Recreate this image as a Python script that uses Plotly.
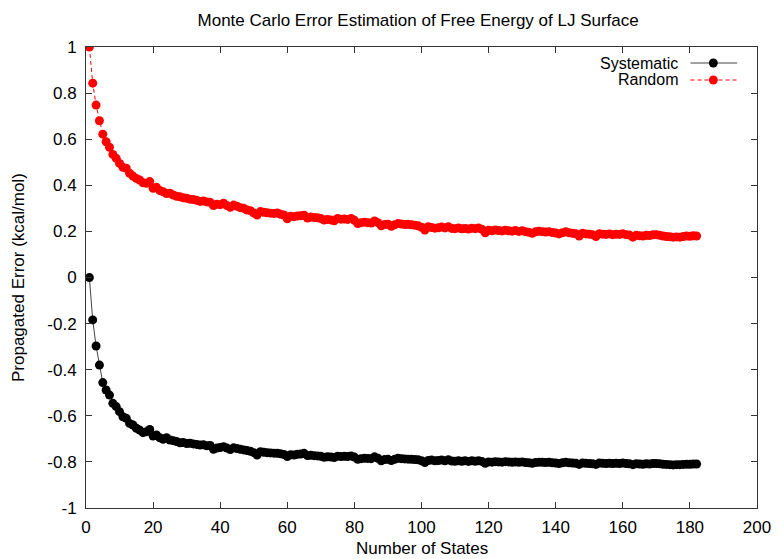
import plotly.graph_objects as go

# Number of states sampled (x) and propagated error (kcal/mol) for each estimate
n_states = list(range(1, 183))

systematic = [
    0.000, -0.184, -0.297, -0.380, -0.456, -0.488, -0.510, -0.546, -0.560, -0.582,
    -0.604, -0.611, -0.633, -0.640, -0.654, -0.662, -0.673, -0.669, -0.659, -0.688,
    -0.683, -0.695, -0.702, -0.695, -0.705, -0.708, -0.712, -0.717, -0.716, -0.720,
    -0.719, -0.722, -0.724, -0.727, -0.726, -0.730, -0.729, -0.745, -0.740, -0.738,
    -0.734, -0.740, -0.746, -0.739, -0.742, -0.745, -0.748, -0.751, -0.754, -0.760,
    -0.770, -0.756, -0.758, -0.760, -0.761, -0.762, -0.763, -0.765, -0.768, -0.777,
    -0.769, -0.770, -0.767, -0.766, -0.763, -0.772, -0.771, -0.773, -0.774, -0.776,
    -0.780, -0.778, -0.779, -0.781, -0.775, -0.777, -0.776, -0.777, -0.774, -0.779,
    -0.789, -0.786, -0.784, -0.785, -0.786, -0.778, -0.784, -0.795, -0.790, -0.789,
    -0.794, -0.789, -0.784, -0.786, -0.787, -0.788, -0.789, -0.790, -0.791, -0.795,
    -0.803, -0.794, -0.792, -0.795, -0.794, -0.792, -0.795, -0.791, -0.796, -0.797,
    -0.795, -0.797, -0.795, -0.798, -0.795, -0.797, -0.795, -0.798, -0.806, -0.800,
    -0.801, -0.799, -0.800, -0.801, -0.799, -0.800, -0.802, -0.800, -0.802, -0.800,
    -0.803, -0.804, -0.806, -0.803, -0.801, -0.802, -0.803, -0.802, -0.804, -0.805,
    -0.807, -0.804, -0.802, -0.804, -0.805, -0.806, -0.811, -0.805, -0.806, -0.807,
    -0.808, -0.811, -0.805, -0.806, -0.807, -0.806, -0.807, -0.806, -0.807, -0.805,
    -0.807, -0.808, -0.812, -0.808, -0.809, -0.810, -0.808, -0.809, -0.807, -0.807,
    -0.808, -0.810, -0.811, -0.812, -0.813, -0.812, -0.812, -0.811, -0.810, -0.810,
    -0.809, -0.809,
]

random_err = [
    1.000, 0.843, 0.748, 0.680, 0.622, 0.589, 0.565, 0.534, 0.517, 0.495,
    0.478, 0.474, 0.452, 0.440, 0.430, 0.423, 0.411, 0.409, 0.416, 0.387,
    0.391, 0.377, 0.372, 0.364, 0.366, 0.358, 0.352, 0.350, 0.346, 0.344,
    0.340, 0.338, 0.335, 0.330, 0.332, 0.328, 0.326, 0.312, 0.318, 0.316,
    0.322, 0.312, 0.305, 0.314, 0.309, 0.303, 0.300, 0.293, 0.290, 0.280,
    0.271, 0.286, 0.283, 0.281, 0.279, 0.278, 0.280, 0.274, 0.271, 0.255,
    0.266, 0.264, 0.267, 0.268, 0.270, 0.258, 0.262, 0.260, 0.259, 0.256,
    0.249, 0.252, 0.250, 0.246, 0.256, 0.253, 0.254, 0.252, 0.256, 0.248,
    0.234, 0.238, 0.240, 0.238, 0.236, 0.245, 0.238, 0.224, 0.230, 0.231,
    0.222, 0.229, 0.234, 0.232, 0.230, 0.231, 0.229, 0.227, 0.224, 0.218,
    0.206, 0.220, 0.217, 0.214, 0.216, 0.219, 0.215, 0.220, 0.213, 0.212,
    0.215, 0.211, 0.213, 0.210, 0.214, 0.212, 0.215, 0.209, 0.194, 0.205,
    0.203, 0.206, 0.204, 0.202, 0.205, 0.203, 0.201, 0.204, 0.200, 0.203,
    0.199, 0.196, 0.192, 0.198, 0.201, 0.199, 0.197, 0.199, 0.195, 0.193,
    0.189, 0.194, 0.198, 0.194, 0.192, 0.190, 0.180, 0.192, 0.189, 0.188,
    0.186, 0.178, 0.190, 0.188, 0.187, 0.189, 0.186, 0.188, 0.187, 0.190,
    0.186, 0.184, 0.175, 0.183, 0.181, 0.180, 0.183, 0.182, 0.185, 0.186,
    0.183, 0.180, 0.178, 0.177, 0.175, 0.176, 0.175, 0.178, 0.180, 0.179,
    0.181, 0.180,
]

x_ticks = [0, 20, 40, 60, 80, 100, 120, 140, 160, 180, 200]
y_ticks = [-1, -0.8, -0.6, -0.4, -0.2, 0, 0.2, 0.4, 0.6, 0.8, 1]
y_tick_text = ["-1", "-0.8", "-0.6", "-0.4", "-0.2", "0", "0.2", "0.4", "0.6", "0.8", "1"]

FONT = "Liberation Sans, Arial, sans-serif"
W, H = 783, 559
L, R, T, B = 86, 21, 47, 51

fig = go.Figure()
fig.add_trace(go.Scatter(
    x=n_states, y=systematic, mode="lines+markers", name="Systematic",
    line=dict(color="#444444", width=1),
    marker=dict(color="black", size=9),
    showlegend=False,
))
fig.add_trace(go.Scatter(
    x=n_states, y=random_err, mode="lines+markers", name="Random",
    line=dict(color="#ff0000", width=1, dash="4px,3px"),
    marker=dict(color="#ff0000", size=9),
    showlegend=False,
))

axis_common = dict(
    showgrid=False, zeroline=False, showline=True, linecolor="#333333", linewidth=1,
    mirror="ticks", ticks="inside", ticklen=6, tickcolor="#333333", tickwidth=1,
    tickfont=dict(family=FONT, size=17, color="black"),
)
fig.update_xaxes(range=[0, 200], tickvals=x_ticks, ticklabelstandoff=4, **axis_common)
fig.update_yaxes(range=[-1, 1], tickvals=y_ticks, ticktext=y_tick_text,
                 ticklabelstandoff=5, **axis_common)

# Gnuplot-style key: label on the left, sample line with point on the right
pw, ph = W - L - R, H - T - B
def px(xp):
    return (xp - L) / pw
def py(yp):
    return (H - B - yp) / ph

shapes = []
annotations = []
key_rows = [("Systematic", "#444444", "black", "solid", 63),
            ("Random", "#ff0000", "#ff0000", "4px,3px", 80)]
for label, lcol, mcol, dash, ypix in key_rows:
    shapes.append(dict(type="line", xref="paper", yref="paper",
                       x0=px(695), x1=px(742), y0=py(ypix), y1=py(ypix),
                       line=dict(color=lcol, width=1, dash=dash)))
    shapes.append(dict(type="circle", xref="paper", yref="paper",
                       x0=px(713.5), x1=px(722.5), y0=py(ypix + 4.5), y1=py(ypix - 4.5),
                       fillcolor=mcol, line=dict(color=mcol, width=0)))
    annotations.append(dict(text=label, xref="paper", yref="paper",
                            x=px(684), y=py(ypix), xanchor="right", yanchor="middle",
                            showarrow=False, font=dict(family=FONT, size=16, color="black")))

annotations.append(dict(text="Number of States", xref="paper", yref="paper",
                        x=0.5, y=py(548), xanchor="center", yanchor="middle",
                        showarrow=False, font=dict(family=FONT, size=17, color="black")))
annotations.append(dict(text="Propagated Error (kcal/mol)", xref="paper", yref="paper",
                        x=px(18), y=0.5, xanchor="center", yanchor="middle", textangle=-90,
                        showarrow=False, font=dict(family=FONT, size=17, color="black")))

fig.update_layout(
    width=W, height=H,
    margin=dict(l=L, r=R, t=T, b=B),
    paper_bgcolor="white", plot_bgcolor="white",
    title=dict(text="Monte Carlo Error Estimation of Free Energy of LJ Surface",
               x=0.495, xanchor="center", xref="paper",
               y=1 - 20 / H, yref="container", yanchor="middle",
               font=dict(family=FONT, size=17, color="black")),
    shapes=shapes, annotations=annotations,
)

fig.write_html("out.html")
